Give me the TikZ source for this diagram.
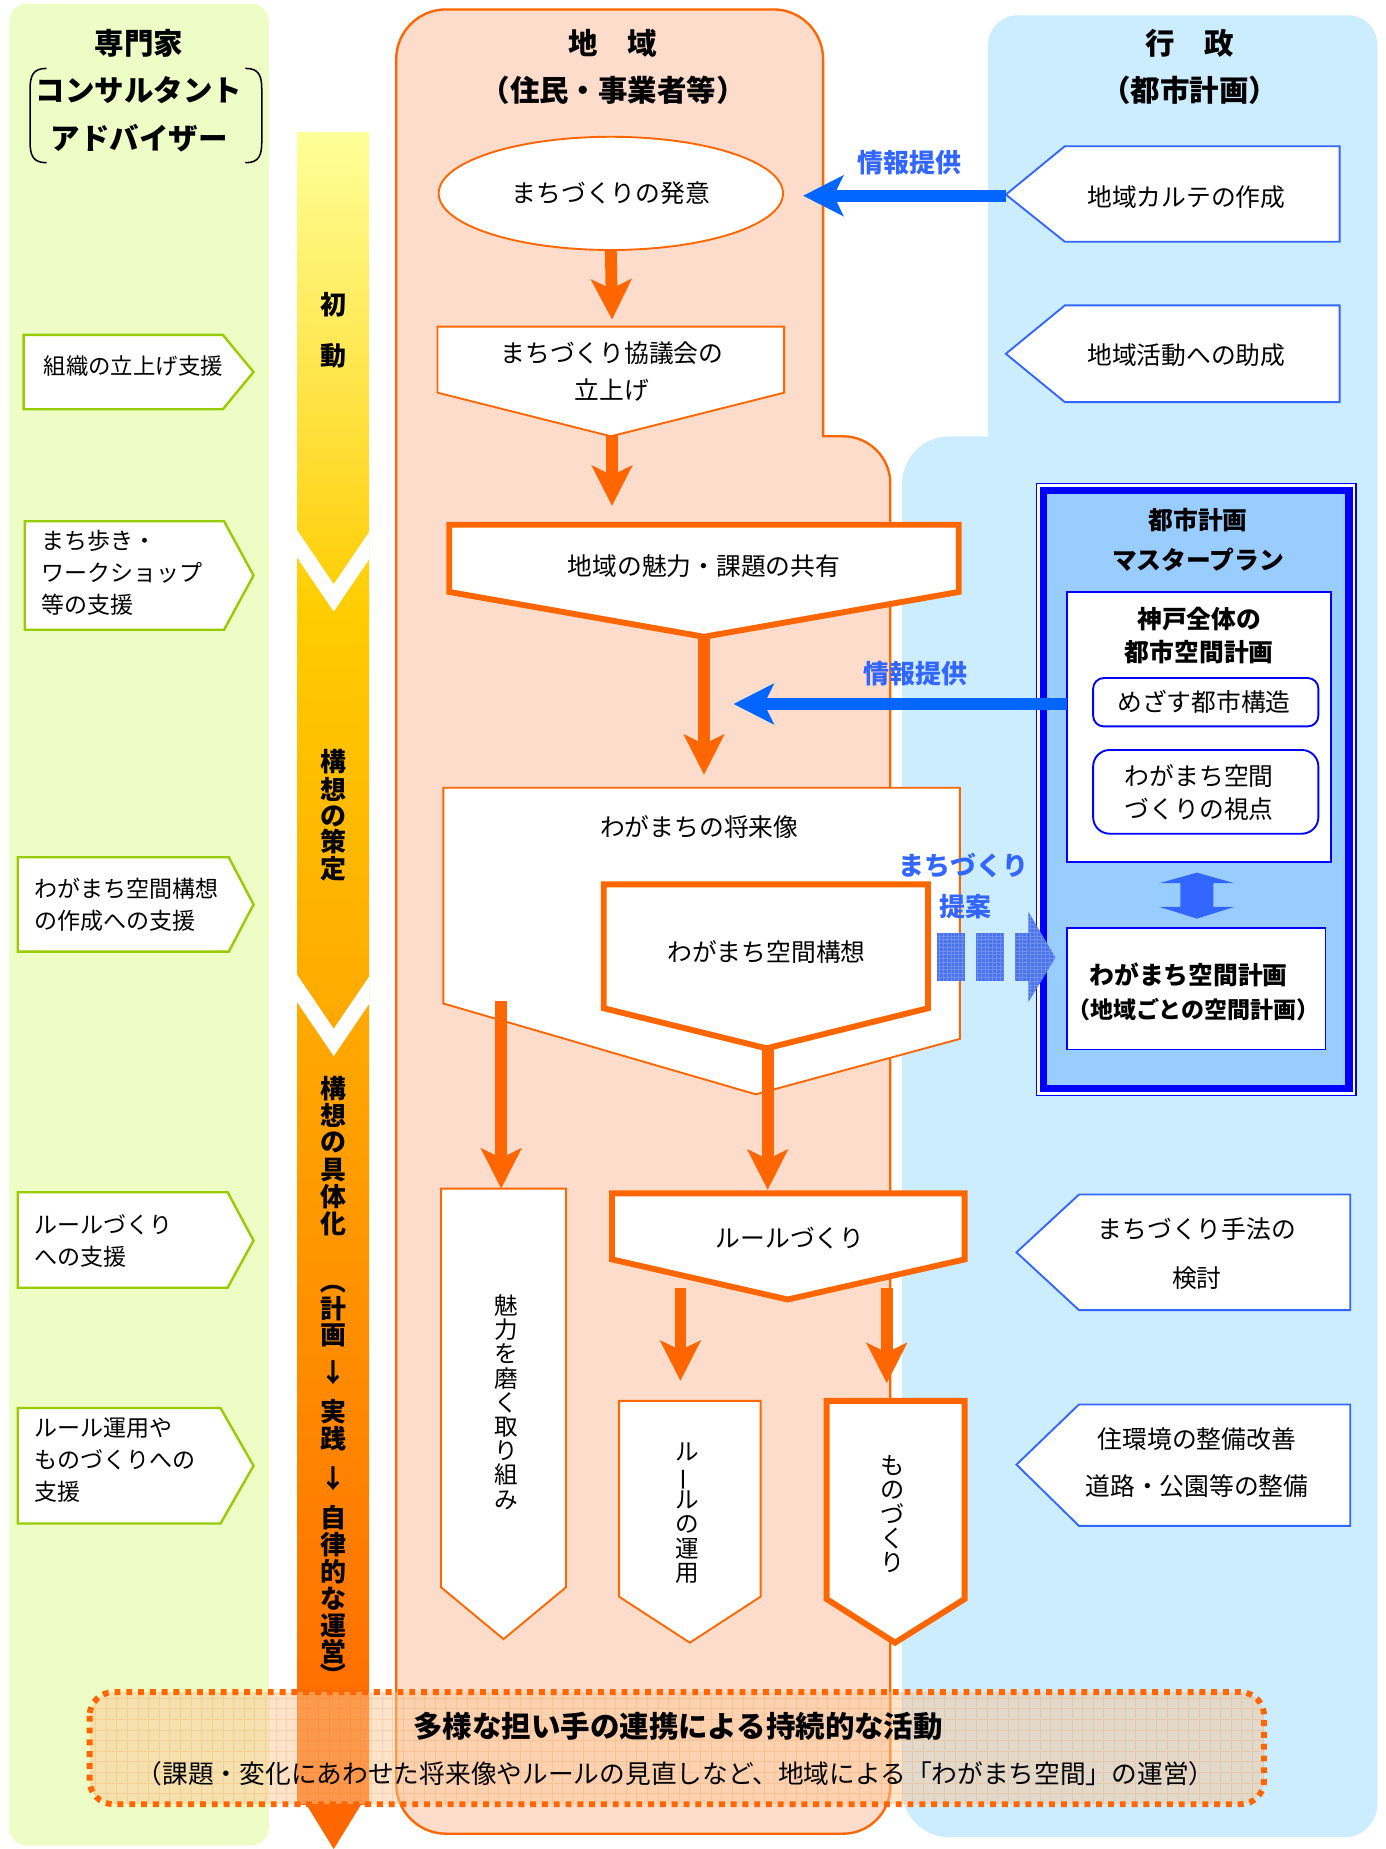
\documentclass[tikz,border=0pt]{standalone}
\usepackage{fontspec}
\setmainfont{Noto Sans CJK JP}
\usetikzlibrary{arrows.meta,shapes.geometric}
\definecolor{orng}{HTML}{FF6600}
\definecolor{salmon}{RGB}{253,220,204}
\definecolor{skyp}{RGB}{204,236,255}
\definecolor{limep}{RGB}{238,252,198}
\definecolor{limeline}{HTML}{99CC00}
\definecolor{bline}{HTML}{3366FF}
\definecolor{barrow}{HTML}{0066FF}
\definecolor{blabel}{HTML}{3366FF}
\definecolor{mpfill}{HTML}{99CCFF}
\definecolor{mpline}{HTML}{0000FF}
\definecolor{colY}{HTML}{FFFF99}
\definecolor{colG}{HTML}{FFCC00}
\definecolor{colO}{HTML}{FF6600}
\definecolor{bottomfill}{RGB}{250,200,150}
\definecolor{propfill}{RGB}{75,115,235}
\newcommand\fsz[2]{\fontsize{#1}{#2}\selectfont}
\newcommand\tightlines{\lineskiplimit=-100pt\relax\lineskip=0pt\relax}
\begin{document}
\begin{tikzpicture}[x=1pt,y=-1pt,
  txt/.style={inner sep=0pt, align=center},
  ltxt/.style={inner sep=0pt, align=left, anchor=west, font=\fsz{19.5}{27}},
  vtxt/.style={inner sep=0pt, align=center, font=\fsz{20}{20.5}\tightlines},
  coltxt/.style={inner sep=0pt, font=\fsz{22}{23}\bfseries},
  hdr/.style={inner sep=0pt, align=center, font=\fsz{25}{40}\bfseries},
  othin/.style={draw=orng, line width=1.6pt, fill=white, line join=miter},
  othick/.style={draw=orng, line width=5pt, fill=white, line join=miter},
  gbox/.style={draw=limeline, line width=2pt, fill=white},
  bbox/.style={draw=bline, line width=1.6pt, fill=white},
  mbox/.style={draw=mpline, line width=1.6pt, fill=white},
  oarr/.style={draw=orng, line width=10pt, -{Stealth[length=34pt,width=34pt,inset=8pt]}},
  barr/.style={draw=barrow, line width=10pt, -{Stealth[length=34pt,width=34pt,inset=8pt]}},
  lbl/.style={inner sep=0pt, text=blabel, font=\fsz{22}{35}\bfseries},
]
\useasboundingbox (0,0) rectangle (1175,1568);
\fill[white] (0,0) rectangle (1175,1568);

% ---------- panels ----------
\fill[limep, rounded corners=15pt] (8,3) rectangle (228,1565);
\path[fill=salmon, draw=orng, line width=2pt]
  (336,1513) -- (336,50) .. controls (336,27) and (355,8) .. (378,8)
  -- (656,8) .. controls (679,8) and (698,27) .. (698,50)
  -- (698,370) -- (715,370) .. controls (737,370) and (755,388) .. (755,410)
  -- (755,1515) .. controls (755,1537) and (737,1555) .. (715,1555)
  -- (378,1555) .. controls (355,1555) and (336,1536) .. (336,1513) -- cycle;
\fill[skyp]
  (838,38) .. controls (838,24) and (849,13) .. (863,13)
  -- (1143,13) .. controls (1157,13) and (1168,24) .. (1168,38)
  -- (1168,1530) .. controls (1168,1545) and (1156,1558) .. (1140,1558)
  -- (805,1558) .. controls (783,1558) and (765,1540) .. (765,1518)
  -- (765,410) .. controls (765,388) and (783,370) .. (805,370)
  -- (838,370) -- cycle;

% ---------- headers ----------
\node[hdr] (hdrExp) at (118,37) {専門家};
\node[hdr, font=\fsz{25}{41}\bfseries] (hdrExp2) at (118,97) {コンサルタント\\アドバイザー};
\draw[line width=1.3pt] (39.6,58) .. controls (28,58) and (25.5,64) .. (25.5,76) -- (25.5,120) .. controls (25.5,132) and (28,138) .. (39.6,138);
\draw[line width=1.3pt] (208,58) .. controls (219.6,58) and (222,64) .. (222,76) -- (222,120) .. controls (222,132) and (219.6,138) .. (208,138);
\node[hdr] (hdrReg) at (520,57) {地　域\\（住民・事業者等）};
\node[hdr] (hdrGov) at (1009,57) {行　政\\（都市計画）};

% ---------- gradient column ----------
\shade[top color=colY, bottom color=colG] (252,112) rectangle (313,520);
\shade[top color=colG, bottom color=colO] (252,519.5) rectangle (313,1530);
\fill[colO] (259,1529) -- (307,1529) -- (283,1568) -- cycle;
\begin{scope}
  \clip (252,100) rectangle (313,1530);
  \draw[white, line width=13pt, line join=miter] (245,451) -- (283,507) -- (321,451);
  \draw[white, line width=13pt, line join=miter] (245,828) -- (283,884) -- (321,828);
\end{scope}
\node[coltxt] (colA1) at (283,258) {初};
\node[coltxt] (colA2) at (283,302) {動};
\foreach \ch/\yy [count=\i] in {構/646,想/669,の/692,策/714,定/737}
  \node[coltxt] (colB\i) at (283,\yy) {\ch};
\foreach \ch/\yy [count=\i] in {構/923,想/946,の/969,具/992,体/1015,化/1038,計/1110,画/1132,↓/1164,実/1197,践/1220,↓/1254,自/1287,律/1310,的/1333,な/1356,運/1379,営/1401}
  \node[coltxt] (colC\i) at (283,\yy) {\ch};
\node[coltxt] (colPL) at (283,1087) {\rotatebox[origin=c]{-90}{（}};
\node[coltxt] (colPR) at (283,1421) {\rotatebox[origin=c]{-90}{）}};

% ---------- green support boxes ----------
\draw[gbox] (20,284) -- (189,284) -- (215,315.5) -- (189,347) -- (20,347) -- cycle;
\node[txt, font=\fsz{19}{27}] (g1) at (113,310) {組織の立上げ支援};
\draw[gbox] (21,442) -- (190,442) -- (215,488) -- (190,534) -- (21,534) -- cycle;
\node[ltxt] (g2) at (35,486) {まち歩き・\\ワークショップ\\等の支援};
\draw[gbox] (15,727) -- (194,727) -- (215,767) -- (194,807) -- (15,807) -- cycle;
\node[ltxt] (g3) at (29,767.5) {わがまち空間構想\\の作成への支援};
\draw[gbox] (15,1011) -- (193,1011) -- (215,1052) -- (193,1092) -- (15,1092) -- cycle;
\node[ltxt] (g4) at (29,1052.5) {ルールづくり\\への支援};
\draw[gbox] (15,1194) -- (187,1194) -- (215,1243) -- (187,1292) -- (15,1292) -- cycle;
\node[ltxt] (g5) at (29,1238) {ルール運用や\\ものづくりへの\\支援};

% ---------- blue admin boxes ----------
\draw[bbox] (853,165) -- (903,124) -- (1136,124) -- (1136,205) -- (903,205) -- cycle;
\node[txt, font=\fsz{21}{30}] (karte) at (1006,167) {地域カルテの作成};
\coordinate (karteTip) at (853,166);
\draw[bbox] (853,300) -- (903,259) -- (1136,259) -- (1136,341) -- (903,341) -- cycle;
\node[txt, font=\fsz{21}{30}] (josei) at (1006,301) {地域活動への助成};
\draw[bbox] (862,1062) -- (915,1013) -- (1145,1013) -- (1145,1111) -- (915,1111) -- cycle;
\node[txt, font=\fsz{21}{41}] (shuho) at (1015,1063) {まちづくり手法の\\検討};
\draw[bbox] (862,1242) -- (915,1191) -- (1145,1191) -- (1145,1294) -- (915,1294) -- cycle;
\node[txt, font=\fsz{21}{40}] (seibi) at (1015,1240) {住環境の整備改善\\道路・公園等の整備};

% ---------- master plan ----------
\draw[mpline, line width=1.2pt, fill=white] (879,410) rectangle (1150,929);
\draw[mpline, line width=6pt, fill=mpfill] (885,416) rectangle (1144,923);
\node[txt, font=\fsz{21}{34}\bfseries] (mpTitle) at (1016,458) {都市計画\\マスタープラン};
\draw[mbox] (905,502) rectangle (1129,731);
\node[txt, font=\fsz{21}{28}\bfseries] (kobe) at (1017,539) {神戸全体の\\都市空間計画};
\draw[mbox, rounded corners=9pt] (927,575) rectangle (1118,616);
\node[txt, font=\fsz{21}{28}] (mezasu) at (1021,595) {めざす都市構造};
\draw[mbox, rounded corners=14pt] (927,636) rectangle (1118,707);
\node[txt, font=\fsz{21}{28}] (shiten) at (1017,672) {わがまち空間\\づくりの視点};
\fill[bline] (1015,740) -- (1047,749) -- (1029,749) -- (1029,769) -- (1047,769) -- (1015,779) -- (983,769) -- (1001,769) -- (1001,749) -- (983,749) -- cycle;
\draw[mbox] (905,787) rectangle (1124,890);
\node[txt, font=\fsz{21}{30}\bfseries] (keikaku1) at (1008,827) {わがまち空間計画};
\node[txt, font=\fsz{19.5}{30}\bfseries] (keikaku2) at (1012,856) {（地域ごとの空間計画）};
\coordinate (kobeW) at (905,597);

% ---------- community flow ----------
\node[ellipse, draw=orng, line width=1.6pt, fill=white, minimum width=292pt, minimum height=96pt, inner sep=0pt, font=\fsz{21}{30}] (hatsui) at (518,164) {まちづくりの発意};
\coordinate (hatsuiIn) at (681,166);

\draw[othin] (371,277) -- (665,277) -- (665,333) -- (518,370) -- (371,333) -- cycle;
\node[txt, font=\fsz{21}{32}] (kyogikai) at (519,315) {まちづくり協議会の\\立上げ};
\coordinate (kTop) at (519,271);
\coordinate (kApex) at (519,369);

\draw[othick] (381,445) -- (813,445) -- (813,502) -- (597,540) -- (381,502) -- cycle;
\node[txt, font=\fsz{21}{30}] (kyoyu) at (597,480) {地域の魅力・課題の共有};
\coordinate (sTop) at (519,429);
\coordinate (sApex) at (597,538);

\draw[othin] (376,668) -- (814,668) -- (814,881) -- (641,928) -- (376,851) -- cycle;
\node[txt, font=\fsz{21}{30}] (shorai) at (593,701) {わがまちの将来像};
\coordinate (fTop) at (597,657);

\draw[othick] (512,750) -- (787,750) -- (787,855) -- (650,889) -- (512,855) -- cycle;
\node[txt, font=\fsz{21}{30}] (koso) at (650,807) {わがまち空間構想};
\coordinate (kosoApex) at (651,887);
\coordinate (fLeft) at (425,849);

\draw[othick] (519,1012) -- (818,1012) -- (818,1068) -- (668,1102) -- (519,1068) -- cycle;
\node[txt, font=\fsz{21}{30}] (rule) at (670,1050) {ルールづくり};
\coordinate (ruleTop) at (651,1009);
\coordinate (ruleL) at (577,1092);
\coordinate (ruleR) at (752,1092);

\draw[othin] (374,1008) -- (480,1008) -- (480,1346) -- (427,1390) -- (374,1346) -- cycle;
\node[vtxt] (miryoku) at (429,1189) {魅\\力\\を\\磨\\く\\取\\り\\組\\み};
\coordinate (miryokuTop) at (425,1008);

\draw[othin] (525,1188) -- (645,1188) -- (645,1354) -- (585,1393) -- (525,1354) -- cycle;
\node[vtxt] (unyo) at (583,1283) {ル\\\rotatebox[origin=c]{90}{ー}\\ル\\の\\運\\用};
\coordinate (unyoTop) at (577,1171);

\draw[othick] (701,1188) -- (818,1188) -- (818,1356) -- (759,1393) -- (701,1356) -- cycle;
\node[vtxt, font=\fsz{20.5}{20.7}\tightlines] (mono) at (757,1284) {も\\の\\づ\\く\\り};
\coordinate (monoTop) at (752,1173);

% ---------- orange arrows ----------
\draw[oarr] (hatsui.south) -- (kTop);
\draw[oarr] (kApex) -- (sTop);
\draw[oarr] (sApex) -- (fTop);
\draw[oarr] (fLeft) -- (miryokuTop);
\draw[oarr] (kosoApex) -- (ruleTop);
\draw[oarr] (ruleL) -- (unyoTop);
\draw[oarr] (ruleR) -- (monoTop);

% ---------- blue arrows and labels ----------
\draw[barr] (karteTip) -- (hatsuiIn);
\node[lbl] (info1) at (771,138) {情報提供};
\coordinate (shoraiIn) at (622,597);
\draw[barr] (kobeW) -- (shoraiIn);
\node[lbl] (info2) at (776,571) {情報提供};
\node[lbl] (prop1) at (817,734) {まちづくり};
\node[lbl] (prop2) at (819,769) {提案};
\fill[propfill] (795,791) rectangle (818,832);
\fill[propfill] (828,791) rectangle (851,832);
\fill[propfill] (861,791) rectangle (873,832);
\fill[propfill] (872,773) -- (895,812) -- (872,850) -- cycle;
\begin{scope}
  \clip (795,791) rectangle (818,832) (828,791) rectangle (851,832) (861,791) rectangle (873,832) (872,773) -- (895,812) -- (872,850) -- cycle;
  \draw[white, opacity=0.2, line width=0.5pt, step=3.2pt] (790,770) grid (900,855);
\end{scope}

% ---------- bottom box ----------
\fill[bottomfill, fill opacity=0.5, rounded corners=20pt] (76,1435) rectangle (1072,1530);
\begin{scope}
  \clip[rounded corners=20pt] (76,1435) rectangle (1072,1530);
  \draw[orng, opacity=0.14, line width=0.6pt, step=9pt] (70,1430) grid (1080,1535);
\end{scope}
\draw[orng, line width=5pt, dash pattern=on 5pt off 5pt, rounded corners=20pt] (76,1435) rectangle (1072,1530);
\node[txt, font=\fsz{25}{30}\bfseries] (sustain) at (575,1464) {多様な担い手の連携による持続的な活動};
\node[txt, font=\fsz{21.8}{30}] (sustain2) at (573,1504) {（課題・変化にあわせた将来像やルールの見直しなど、地域による「わがまち空間」の運営）};
\end{tikzpicture}
\end{document}
